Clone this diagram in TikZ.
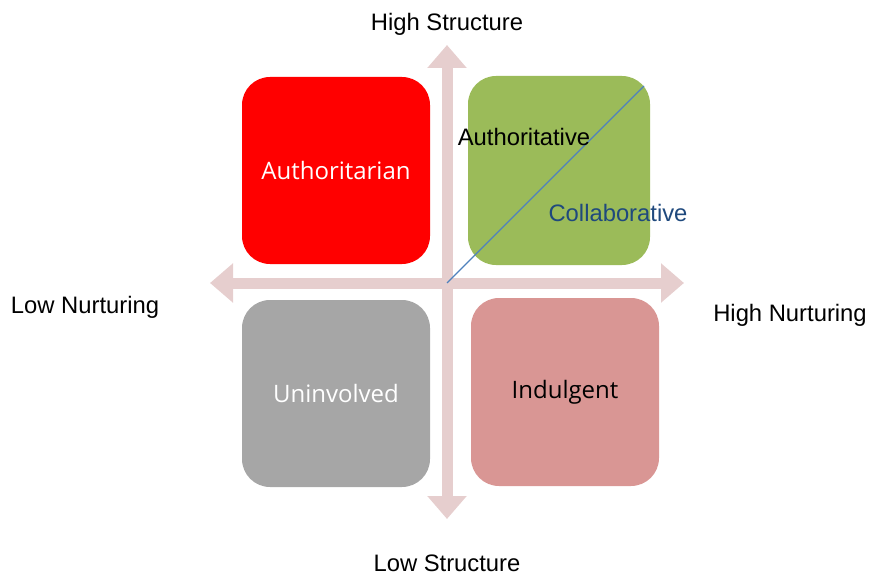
\documentclass[tikz,border=0pt]{standalone}
\usepackage{fontspec}
\setmainfont{Liberation Sans}
\newfontfamily\quadfont{Open Sans}
\usetikzlibrary{arrows.meta}
\definecolor{axispink}{RGB}{230,206,206}
\definecolor{quadred}{RGB}{255,0,0}
\definecolor{quadgreen}{RGB}{155,187,89}
\definecolor{quadgray}{RGB}{166,166,166}
\definecolor{quadpink}{RGB}{217,150,148}
\definecolor{lineblue}{RGB}{79,129,189}
\definecolor{textblue}{RGB}{31,73,125}
\tikzset{
  quad/.style={rounded corners=28pt,minimum width=188pt,minimum height=187pt,inner sep=0pt,font=\quadfont\fontsize{24}{28}\selectfont},
  axis/.style={axispink,line width=11pt,{Triangle[width=38pt,length=23pt]}-{Triangle[width=38pt,length=23pt]}},
  lbl/.style={font=\fontsize{23.8}{28}\selectfont,inner sep=0pt}
}
\begin{document}
\begin{tikzpicture}[x=1pt,y=-1pt]
\useasboundingbox (0,0) rectangle (870,575);
\coordinate (top) at (447,45);
\coordinate (bottom) at (447,519);
\coordinate (left) at (210,283);
\coordinate (right) at (684,283);
\coordinate (origin) at (447,283);
\coordinate (corner) at (644,86);
\draw[axis] (top) -- (bottom);
\draw[axis] (left) -- (right);
\node[quad,fill=quadred,text=white] (authoritarian) at (336,170.5) {Authoritarian};
\node[quad,fill=quadgreen,minimum width=182pt,minimum height=189pt] (authoritative) at (559,170.5) {};
\node[quad,fill=quadgray,text=white] (uninvolved) at (336,393.5) {Uninvolved};
\node[quad,fill=quadpink,minimum height=188pt] (indulgent) at (565,392) {Indulgent};
\draw[lineblue,line width=1.1pt] (origin) -- (corner);
\node[lbl] (authtext) at (524,137) {Authoritative};
\node[lbl,text=textblue] (collab) at (618,213) {Collaborative};
\node[lbl] (highs) at (447,24) {High Structure};
\node[lbl] (lows) at (447,563) {Low Structure};
\node[lbl] (lown) at (85,307) {Low Nurturing};
\node[lbl] (highn) at (790,315) {High Nurturing};
\end{tikzpicture}
\end{document}
